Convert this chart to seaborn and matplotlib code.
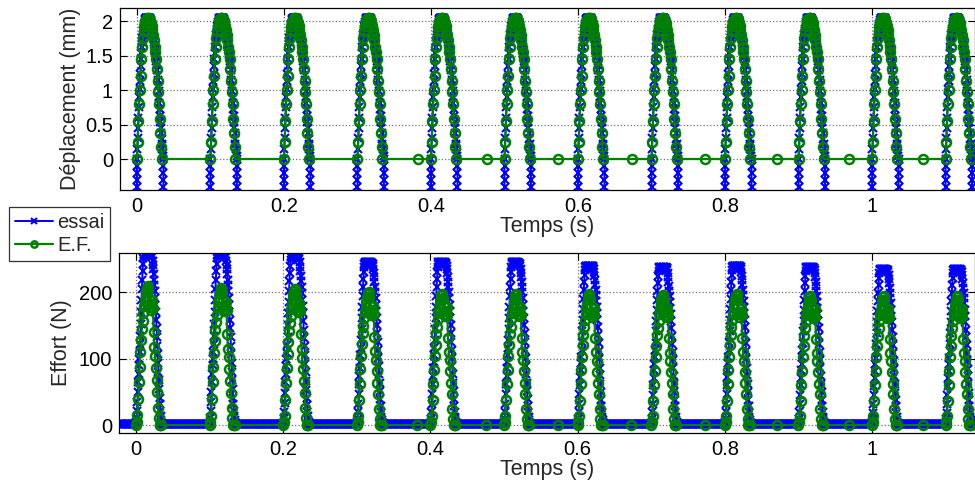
import numpy as np
import pandas as pd
import seaborn as sns
import matplotlib.pyplot as plt

# -------------------------
# Data
# -------------------------
# start time of each loading cycle (s)
cycle_starts = [0.0, 0.1, 0.2, 0.3, 0.4, 0.5, 0.6, 0.7, 0.8, 0.9, 1.0, 1.1]

# E.F. displacement pulse, one value per ms from pulse start (mm)
dep_ef_profile = [0.0, 0.25, 0.55, 0.8, 1.0, 1.2, 1.45, 1.62, 1.75, 1.85, 1.93, 1.98,
                  2.01, 2.03, 2.04, 2.04, 2.04, 2.03, 2.0, 1.97, 1.93, 1.87, 1.8, 1.72,
                  1.63, 1.55, 1.45, 1.3, 1.13, 0.97, 0.8, 0.58, 0.38, 0.18, 0.0]
# test displacement pulse, one value per 0.5 ms (mm)
dep_essai_profile = [0.0, 0.15, 0.3, 0.45, 0.6, 0.75, 0.9, 1.02, 1.13, 1.24, 1.35, 1.45,
                     1.54, 1.62, 1.69, 1.75, 1.8, 1.85, 1.89, 1.93, 1.96, 1.99, 2.01, 2.03,
                     2.04, 2.05, 2.05, 2.05, 2.05, 2.05, 2.05, 2.05, 2.05, 2.05, 2.05,
                     2.04, 2.03, 2.02, 2.0, 1.98, 1.96, 1.93, 1.9, 1.86, 1.82, 1.78, 1.74,
                     1.7, 1.66, 1.62, 1.58, 1.53, 1.48, 1.42, 1.36, 1.29, 1.22, 1.14, 1.06,
                     0.98, 0.9, 0.81, 0.72, 0.63, 0.54, 0.45, 0.37, 0.29, 0.22, 0.15, 0.09,
                     0.04, 0.0]
# test sensor drops out of range before / after contact (mm)
dep_essai_drop = [-0.1, -0.2, -0.3, -0.4, -0.5, -0.6]

# E.F. force pulse, one value per ms from pulse start (N)
effort_ef_profile = [0, 5, 14, 38, 63, 85, 106, 124, 140, 152, 163, 173, 181, 188, 195, 200,
                     203, 196, 184, 172, 168, 176, 182, 170, 135, 113, 100, 83, 65, 48, 25,
                     10, 0, 0, 0]
# test force pulse, one value per 0.5 ms (N)
effort_essai_profile = [2, 5, 10, 20, 33, 48, 63, 75, 87, 97, 107, 118, 130, 148, 165, 182,
                        198, 212, 225, 235, 243, 248, 250,
                        249, 250, 248, 247, 250, 250, 249, 248, 250, 250, 249, 250, 248, 250,
                        249, 248, 250, 249, 247, 249, 248,
                        245, 240, 234, 227, 220, 212, 204, 195, 185, 175, 165, 153, 141, 128,
                        116, 103, 90, 78, 65, 52, 40, 30, 20, 13, 8, 5, 3, 2, 2]
effort_essai_rest = 2.0

# peak force of each cycle (N)
peak_effort_essai = [258, 258, 255, 245, 245, 245, 240, 238, 240, 238, 235, 235]
peak_effort_ef = [210, 207, 205, 200, 198, 198, 197, 196, 197, 195, 195, 195]

# coarse E.F. time steps during the rest phases (s)
ef_rest_times = [0.382, 0.476, 0.573, 0.673, 0.773, 0.871, 0.969, 1.069]

# -------------------------
# Build the time series
# -------------------------
dt_ef = 0.001
dt_es = 0.0005
t_ef, d_ef, f_ef = [], [], []
t_ed, d_ed = [], []
t_ee, f_ee = list(np.arange(-0.03, 0.0, 0.001)), [effort_essai_rest] * 30

for i, c in enumerate(cycle_starts):
    n_ef = len(dep_ef_profile)
    t_ef += [c + k * dt_ef for k in range(n_ef)]
    d_ef += dep_ef_profile
    f_ef += [v * peak_effort_ef[i] / max(effort_ef_profile) for v in effort_ef_profile]
    for rt in ef_rest_times:
        if c + 0.035 < rt < c + 0.1:
            t_ef.append(rt)
            d_ef.append(0.0)
            f_ef.append(0.0)

    n_es = len(dep_essai_profile)
    nd = len(dep_essai_drop)
    t_ed += [c] * nd + [c + k * dt_es for k in range(n_es)] + [c + (n_es - 1) * dt_es] * nd
    d_ed += dep_essai_drop[::-1] + dep_essai_profile + dep_essai_drop

    n_ee = len(effort_essai_profile)
    t_ee += [c + k * dt_es for k in range(n_ee)]
    f_ee += [v * peak_effort_essai[i] / max(effort_essai_profile) for v in effort_essai_profile]
    rest = np.arange(c + n_ee * dt_es, c + 0.0995, 0.001)
    t_ee += list(rest)
    f_ee += [effort_essai_rest] * len(rest)

ef = pd.DataFrame({"t": t_ef, "dep": d_ef, "effort": f_ef})
essai_dep = pd.DataFrame({"t": t_ed, "dep": d_ed})
essai_eff = pd.DataFrame({"t": t_ee, "effort": f_ee})

# -------------------------
# Plot
# -------------------------
sns.set_style("ticks")
plt.rcParams["font.family"] = ["Liberation Sans", "DejaVu Sans"]
plt.rcParams["font.size"] = 14

blue = (0, 0, 1)
green = (0, 0.5, 0)
essai_kw = dict(color=blue, marker="x", markersize=6, markeredgewidth=1.5,
                markeredgecolor=blue, linewidth=1.4, sort=False, estimator=None)
ef_kw = dict(color=green, marker="o", markersize=6.5, markeredgewidth=1.8,
             markeredgecolor=green, markerfacecolor="none", linewidth=1.6,
             sort=False, estimator=None)

fig = plt.figure(figsize=(9.75, 4.86), dpi=100)
ax1 = fig.add_axes([0.1231, 0.609, 0.8769, 0.3745])
ax2 = fig.add_axes([0.1221, 0.109, 0.8779, 0.3704])

sns.lineplot(data=essai_dep, x="t", y="dep", ax=ax1, **essai_kw)
sns.lineplot(data=ef, x="t", y="dep", ax=ax1, **ef_kw)
sns.lineplot(data=essai_eff, x="t", y="effort", ax=ax2, label="essai", **essai_kw)
sns.lineplot(data=ef, x="t", y="effort", ax=ax2, label="E.F.", **ef_kw)

xticks = [0, 0.2, 0.4, 0.6, 0.8, 1.0]
xticklabels = ["0", "0.2", "0.4", "0.6", "0.8", "1"]
for ax in (ax1, ax2):
    ax.set_xlim(-0.023, 1.14)
    ax.set_xticks(xticks)
    ax.set_xticklabels(xticklabels)
    ax.set_xlabel("Temps (s)", fontsize=15.5, labelpad=0)
    ax.grid(True, linestyle=":", color="0.45", linewidth=0.9)
    ax.tick_params(direction="in", top=True, right=True, length=5, width=0.8,
                   labelsize=14.5, pad=5, colors="black")
    for s in ax.spines.values():
        s.set_color("black")
        s.set_linewidth(0.9)

ax1.set_ylim(-0.45, 2.19)
ax1.set_yticks([0, 0.5, 1, 1.5, 2])
ax1.set_yticklabels(["0", "0.5", "1", "1.5", "2"])
ax1.set_ylabel("Déplacement (mm)", fontsize=15.5, labelpad=3)

ax2.set_ylim(-12, 259)
ax2.set_yticks([0, 100, 200])
ax2.set_ylabel("Effort (N)", fontsize=15.5, labelpad=5)

handles, labels = ax2.get_legend_handles_labels()
ax2.get_legend().remove()
leg = fig.legend(handles, labels, loc="upper left", bbox_to_anchor=(0.009, 0.575),
                 fontsize=14.5, frameon=True, fancybox=False, edgecolor="black",
                 handlelength=1.9, handletextpad=0.2, borderpad=0.3, labelspacing=0.2,
                 borderaxespad=0, markerscale=0.7)
leg.get_frame().set_linewidth(0.9)

fig.savefig("out.png", dpi=100)
